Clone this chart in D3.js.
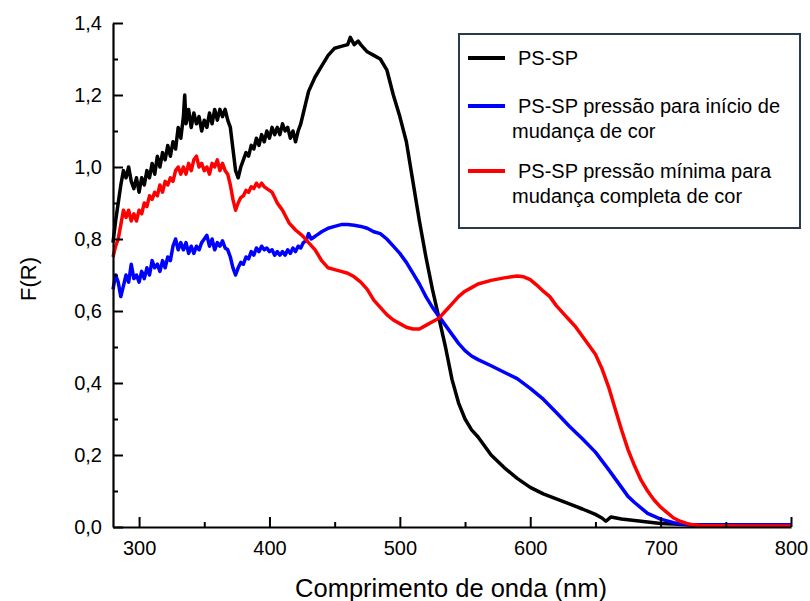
<!DOCTYPE html>
<html><head><meta charset="utf-8">
<script src="https://cdn.jsdelivr.net/npm/d3@7"></script>
<style>body{margin:0;background:#fff}svg{display:block}text{font-family:"Liberation Sans",Arial,sans-serif}</style>
</head><body><svg id="c" width="810" height="601"></svg>
<script>
const xTicks = [300, 400, 500, 600, 700, 800];
const yTicks = [0, 0.2, 0.4, 0.6, 0.8, 1.0, 1.2, 1.4];
const seriesNames = ["PS-SP", "PS-SP pressão para início de|mudança de cor", "PS-SP pressão mínima para|mudança completa de cor"];
const seriesColors = ["#000000", "#0000ff", "#ff0000"];

const blackX = [280,282,284,286,288,290,292,294,296,298,300,302,304,306,308,310,312,314,316,318,320,322,324,326,328,330,332,334,335,336,338,340,342,344,346,348,350,352,354,356,358,360,362,364,366,368,370,372,374,376,378,380,382,384,386,388,390,392,394,396,398,400,402,404,406,408,410,412,414,416,418,420,422,424,426,428,430,435,440,445,450,455,460,462,465,468,470,475,480,485,490,495,500,505,510,515,520,525,530,535,540,545,550,555,560,570,580,590,600,610,620,630,640,650,655,658,662,670,680,690,700,710,720,730,750,770,800];
const blackY = [0.79,0.85,0.90,0.95,0.99,0.97,1.00,0.96,0.94,0.97,0.93,0.97,0.95,0.99,0.97,1.01,0.98,1.03,1.00,1.04,1.02,1.06,1.03,1.07,1.05,1.11,1.08,1.14,1.20,1.12,1.16,1.11,1.15,1.12,1.14,1.10,1.13,1.11,1.15,1.12,1.16,1.13,1.16,1.14,1.16,1.13,1.11,1.05,0.99,0.97,1.00,1.02,1.04,1.03,1.06,1.05,1.08,1.06,1.09,1.07,1.10,1.08,1.11,1.09,1.11,1.09,1.12,1.10,1.11,1.08,1.10,1.07,1.10,1.12,1.15,1.18,1.21,1.25,1.28,1.31,1.33,1.335,1.34,1.36,1.34,1.35,1.34,1.32,1.31,1.30,1.27,1.20,1.14,1.07,0.96,0.85,0.75,0.66,0.58,0.50,0.41,0.345,0.30,0.27,0.25,0.20,0.165,0.135,0.11,0.092,0.078,0.064,0.050,0.035,0.025,0.016,0.028,0.022,0.018,0.014,0.010,0.008,0.006,0.004,0.004,0.004,0.004];

const blueX = [280,282,284,286,288,290,292,294,296,298,300,302,304,306,308,310,312,314,316,318,320,322,324,326,328,330,332,334,336,338,340,342,344,346,348,350,352,354,356,358,360,362,364,366,368,370,372,374,376,378,380,382,384,386,388,390,392,394,396,398,400,402,404,406,408,410,412,414,416,418,420,422,424,426,428,430,432,434,436,438,440,445,450,455,460,465,470,475,480,485,490,495,500,505,510,515,520,525,530,535,540,545,550,555,560,570,580,590,600,610,620,630,640,650,660,665,670,675,680,690,700,710,720,730,760,800];
const blueY = [0.66,0.70,0.68,0.64,0.67,0.70,0.68,0.73,0.69,0.70,0.68,0.71,0.69,0.72,0.70,0.74,0.72,0.73,0.71,0.74,0.72,0.75,0.74,0.78,0.80,0.77,0.79,0.77,0.79,0.76,0.78,0.76,0.78,0.77,0.79,0.80,0.81,0.78,0.80,0.77,0.79,0.78,0.795,0.775,0.77,0.75,0.72,0.70,0.72,0.735,0.73,0.75,0.745,0.765,0.755,0.775,0.765,0.78,0.77,0.775,0.765,0.77,0.755,0.765,0.755,0.765,0.755,0.77,0.76,0.775,0.765,0.78,0.775,0.79,0.795,0.815,0.80,0.805,0.81,0.815,0.82,0.83,0.835,0.84,0.84,0.838,0.835,0.83,0.82,0.815,0.80,0.78,0.76,0.735,0.705,0.675,0.64,0.61,0.585,0.56,0.535,0.51,0.49,0.475,0.465,0.448,0.43,0.412,0.385,0.355,0.318,0.28,0.245,0.208,0.16,0.135,0.11,0.085,0.068,0.038,0.022,0.012,0.007,0.006,0.006,0.006];

const redX = [280,282,284,286,288,290,292,294,296,298,300,302,304,306,308,310,312,314,316,318,320,322,324,326,328,330,332,334,336,338,340,342,344,346,348,350,352,354,356,358,360,362,364,366,368,370,372,374,376,378,380,382,384,386,388,390,392,394,396,398,400,402,404,406,408,410,415,420,425,430,435,440,445,450,455,460,465,470,475,480,485,490,495,500,505,510,515,520,525,530,535,540,545,550,555,560,570,580,590,595,600,605,610,615,620,625,630,635,640,645,650,655,660,665,670,675,680,685,690,695,700,705,710,715,720,725,730,760,800];
const redY = [0.75,0.78,0.80,0.84,0.88,0.86,0.88,0.85,0.87,0.85,0.88,0.87,0.90,0.89,0.92,0.91,0.93,0.92,0.95,0.93,0.96,0.95,0.97,0.96,0.99,1.00,0.98,1.00,0.98,1.01,0.99,1.02,1.03,1.00,1.01,0.99,1.00,0.98,1.01,1.00,1.02,0.99,1.01,0.99,0.98,0.95,0.91,0.88,0.90,0.915,0.92,0.935,0.93,0.945,0.94,0.955,0.945,0.955,0.945,0.94,0.935,0.93,0.915,0.90,0.89,0.88,0.845,0.825,0.81,0.79,0.77,0.74,0.72,0.715,0.71,0.705,0.695,0.68,0.66,0.63,0.61,0.59,0.575,0.565,0.555,0.55,0.55,0.56,0.57,0.58,0.60,0.62,0.64,0.655,0.665,0.675,0.685,0.692,0.697,0.695,0.687,0.672,0.655,0.64,0.615,0.595,0.575,0.555,0.53,0.505,0.48,0.44,0.39,0.33,0.27,0.215,0.17,0.13,0.10,0.075,0.055,0.04,0.025,0.016,0.01,0.006,0.004,0.003,0.003];

const svg = d3.select("#c");
const x = d3.scaleLinear().domain([280, 800]).range([113, 791]);
const y = d3.scaleLinear().domain([0, 1.4]).range([527, 23]);

const fmt = d => d.toFixed(1).replace(".", ",");

// curves
const line = d3.line().x(d => x(d[0])).y(d => y(d[1]));
const series = [
  {xs: blackX, ys: blackY, c: seriesColors[0]},
  {xs: blueX, ys: blueY, c: seriesColors[1]},
  {xs: redX, ys: redY, c: seriesColors[2]}
];
series.forEach(s => {
  svg.append("path").datum(s.xs.map((v, k) => [v, s.ys[k]]))
    .attr("d", line).attr("fill", "none").attr("stroke", s.c)
    .attr("stroke-width", 3.5).attr("stroke-linejoin", "round");
});

// axes
const xAxis = d3.axisBottom(x).tickValues(xTicks).tickSizeInner(-10).tickSizeOuter(0).tickPadding(14).tickFormat(d3.format("d"));
const gx = svg.append("g").attr("transform", "translate(0,527)").call(xAxis);
gx.select(".domain").attr("stroke-width", 2.2);
gx.selectAll(".tick line").attr("stroke-width", 2);
gx.selectAll("text").attr("font-size", 20).attr("fill", "#000");
svg.append("g").attr("transform", "translate(0,527)")
  .call(d3.axisBottom(x).tickValues([350, 450, 550, 650, 750]).tickSizeInner(-5).tickSizeOuter(0).tickFormat(""))
  .call(g => g.select(".domain").remove()).selectAll("line").attr("stroke-width", 2);

const yAxis = d3.axisLeft(y).tickValues(yTicks).tickSizeInner(-10).tickSizeOuter(0).tickPadding(11).tickFormat(fmt);
const gy = svg.append("g").attr("transform", "translate(113,0)").call(yAxis);
gy.select(".domain").attr("stroke-width", 2.2);
gy.selectAll(".tick line").attr("stroke-width", 2);
gy.selectAll("text").attr("font-size", 20).attr("fill", "#000");
svg.append("g").attr("transform", "translate(113,0)")
  .call(d3.axisLeft(y).tickValues([0.1, 0.3, 0.5, 0.7, 0.9, 1.1, 1.3]).tickSizeInner(-5).tickSizeOuter(0).tickFormat(""))
  .call(g => g.select(".domain").remove()).selectAll("line").attr("stroke-width", 2);

// axis titles
svg.append("text").attr("x", 451).attr("y", 597).attr("text-anchor", "middle")
  .attr("font-size", 25.5).text("Comprimento de onda (nm)");
svg.append("text").attr("transform", "translate(36,279) rotate(-90)").attr("text-anchor", "middle")
  .attr("font-size", 22).text("F(R)");

// legend
const lg = svg.append("g");
lg.append("rect").attr("x", 459).attr("y", 34).attr("width", 341).attr("height", 194)
  .attr("fill", "#fff").attr("stroke", "#2b3a48").attr("stroke-width", 2);
const legY = [58, 106, 171];
seriesNames.forEach((name, i) => {
  lg.append("line").attr("x1", 468).attr("x2", 505).attr("y1", legY[i]).attr("y2", legY[i])
    .attr("stroke", seriesColors[i]).attr("stroke-width", 4);
  const parts = name.split("|");
  parts.forEach((p, j) => {
    lg.append("text").attr("x", j === 0 ? 518 : 512).attr("y", legY[i] + 7 + j * 25)
      .attr("font-size", 20).text(p);
  });
});
</script></body></html>
